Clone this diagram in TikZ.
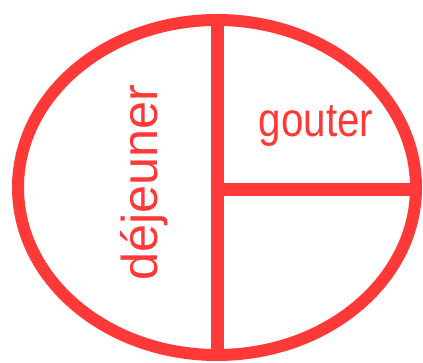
\documentclass[tikz,border=0pt]{standalone}
\usepackage{fontspec}
\setmainfont{Liberation Sans}
\definecolor{rouge}{RGB}{255,56,56}
\begin{document}
\begin{tikzpicture}[x=1pt,y=1pt,
    bord/.style={draw=rouge,line width=12pt},
    trait/.style={draw=rouge,line width=13pt},
    mot/.style={text=rouge,inner sep=0pt,font=\fontsize{48}{58}\selectfont}]
  \useasboundingbox (0,0) rectangle (423,363);
  % 1. centre de l'ellipse et extremites des traits
  \coordinate (O) at (217,175.5);
  \coordinate (H) at (217,343);
  \coordinate (B) at (217,8);
  \coordinate (M) at (217,173);
  \coordinate (D) at (416,173);

  % 2. ellipse
  \draw[bord] (O) ellipse [x radius=199, y radius=167.5];

  % 3. traits de partage
  \draw[trait] (H) -- (B);
  \draw[trait] (M) -- (D);

  % 4. textes
  \node[mot, rotate=90, scale=1.05] (dej) at (144,180.5) {déjeuner};
  \node[mot, xscale=0.84] (gou) at (316,237.5) {gouter};
\end{tikzpicture}
\end{document}
